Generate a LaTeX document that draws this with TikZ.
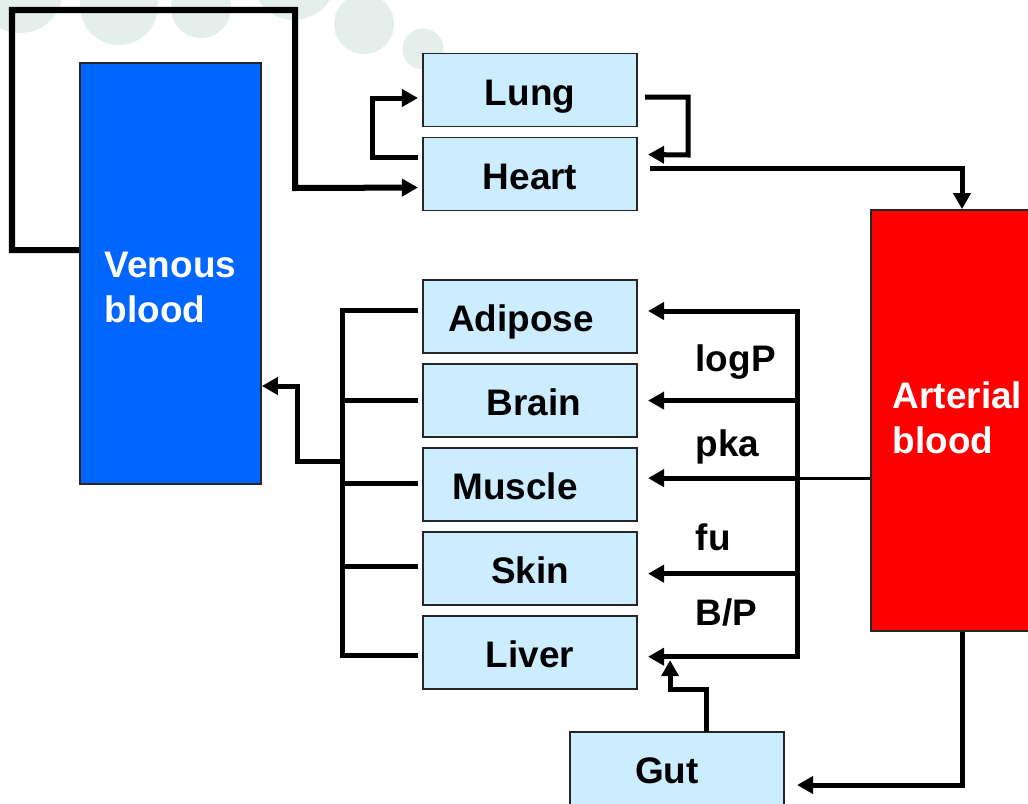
\documentclass[tikz,border=0pt]{standalone}
\usepackage{fontspec}
\setmainfont{Liberation Sans}
\usetikzlibrary{positioning,arrows.meta,calc}
\definecolor{organfill}{RGB}{204,236,255}
\definecolor{venousblue}{RGB}{0,102,255}
\definecolor{arterialred}{RGB}{255,0,0}
\definecolor{bubble}{RGB}{228,239,236}
\newcommand{\boxfont}{\bfseries\fontsize{10.5}{12.8}\selectfont}

\begin{document}
\begin{tikzpicture}[
	x=0.01cm, y=-0.01cm,
	node distance=0.11cm,
	organ/.style={rectangle, draw=black!85, line width=0.45pt, fill=organfill, outer sep=0pt,
		minimum width=2.14cm, minimum height=0.73cm, inner sep=0pt,
		text height=0.32cm, text depth=0.02cm, font=\boxfont},
	pool/.style={rectangle, draw=black!85, line width=0.45pt, inner sep=0pt,
		minimum height=4.21cm},
	poollabel/.style={text=white, align=left, anchor=west, inner sep=0pt, font=\boxfont},
	param/.style={anchor=west, inner sep=0pt, font=\boxfont},
	pipe/.style={line width=0.05cm},
	thinpipe/.style={line width=0.03cm},
	arr/.style={pipe, -{Triangle[length=0.16cm, width=0.17cm]}}
	]
	\useasboundingbox (0,0) rectangle (1028,803);
	\fill[bubble] (20,-10) circle (0.43cm);
	\fill[bubble] (119,6) circle (0.39cm);
	\fill[bubble] (201,8) circle (0.3cm);
	\fill[bubble] (294,-22) circle (0.42cm);
	\fill[bubble] (364,24) circle (0.3cm);
	\fill[bubble] (423,49) circle (0.205cm);

	\node[pool, fill=venousblue, minimum width=1.81cm] (venous) at (170.5,273.5) {};
	\node[poollabel] (venoustxt) at ($(venous.west)+(25,14)$) {Venous\\blood};
	\node[pool, fill=arterialred, minimum width=1.59cm] (arterial) at (950.5,420.5) {};
	\node[poollabel] (arterialtxt) at ($(arterial.west)+(22,-3)$) {Arterial\\blood};

	\node[organ] (lung) at (530,90) {Lung};
	\node[organ, below=of lung] (heart) {Heart};
	\node[organ] (adipose) at (530,316.5) {\hspace*{-0.18cm}Adipose};
	\node[organ, below=of adipose] (brain) {\hspace*{0.08cm}Brain};
	\node[organ, below=of brain] (muscle) {\hspace*{-0.3cm}Muscle};
	\node[organ, below=of muscle] (skin) {Skin};
	\node[organ, below=of skin] (liver) {Liver};
	\node[organ] (gut) at (677,768.5) {\hspace*{-0.2cm}Gut};

	\node[param] (logp) at (695,362) {logP};
	\node[param] (pka) at (695,447) {pka};
	\node[param] (fu) at (695,537) {fu};
	\node[param] (bp) at (695,612) {B/P};

	\draw[arr, line width=0.06cm] ($(venous.west)+(0,-23.5)$) -| (12,10) -| (295,188) -- ($(heart.west)+(-5,13.5)$);
	\draw[arr] ($(heart.west)+(-5,-16.5)$) -| (372,98) -- ($(lung.west)+(-5,8)$);
	\draw[arr] ($(lung.east)+(8,7)$) -| (688,155) -- ($(heart.east)+(11,-19.5)$);
	\draw[arr] ($(heart.east)+(13,-5.5)$) -| ($(arterial.north)+(11.5,0)$);

	\coordinate (split) at ($(muscle.east)+(160,-6.5)$);
	\draw[thinpipe] (arterial.west |- split) -- (split);
	\draw[arr] ($(liver.east)+(160,4)$) |- ($(adipose.east)+(11,-5.5)$);
	\draw[arr] ($(brain.east)+(160,0)$) -- ($(brain.east)+(11,0)$);
	\draw[arr] (split) -- ($(muscle.east)+(11,-6.5)$);
	\draw[arr] ($(skin.east)+(160,5)$) -- ($(skin.east)+(11,5)$);
	\draw[arr] ($(adipose.east)+(160,-5.5)$) |- ($(liver.east)+(11,4)$);

	\draw[arr] ($(arterial.south)+(11.5,0)$) |- ($(gut.east)+(13,16.5)$);
	\draw[arr] ($(gut.north)+(29,0)$) -- ++(0,-42) -| ($(liver.south east)+(33,-29)$);

	\draw[pipe] ($(adipose.west)+(-5,-6.5)$) -| ($(liver.west)+(-80,3)$) -- ($(liver.west)+(-5,3)$);
	\draw[pipe] ($(brain.west)+(-5,0)$) -- ++(-75,0);
	\draw[pipe] ($(muscle.west)+(-5,-1.5)$) -- ++(-75,0);
	\draw[pipe] ($(skin.west)+(-5,-2)$) -- ++(-75,0);
	\draw[arr] (343,461) -| (297,386) -- ($(venous.east)+(0,112.5)$);
\end{tikzpicture}
\end{document}
